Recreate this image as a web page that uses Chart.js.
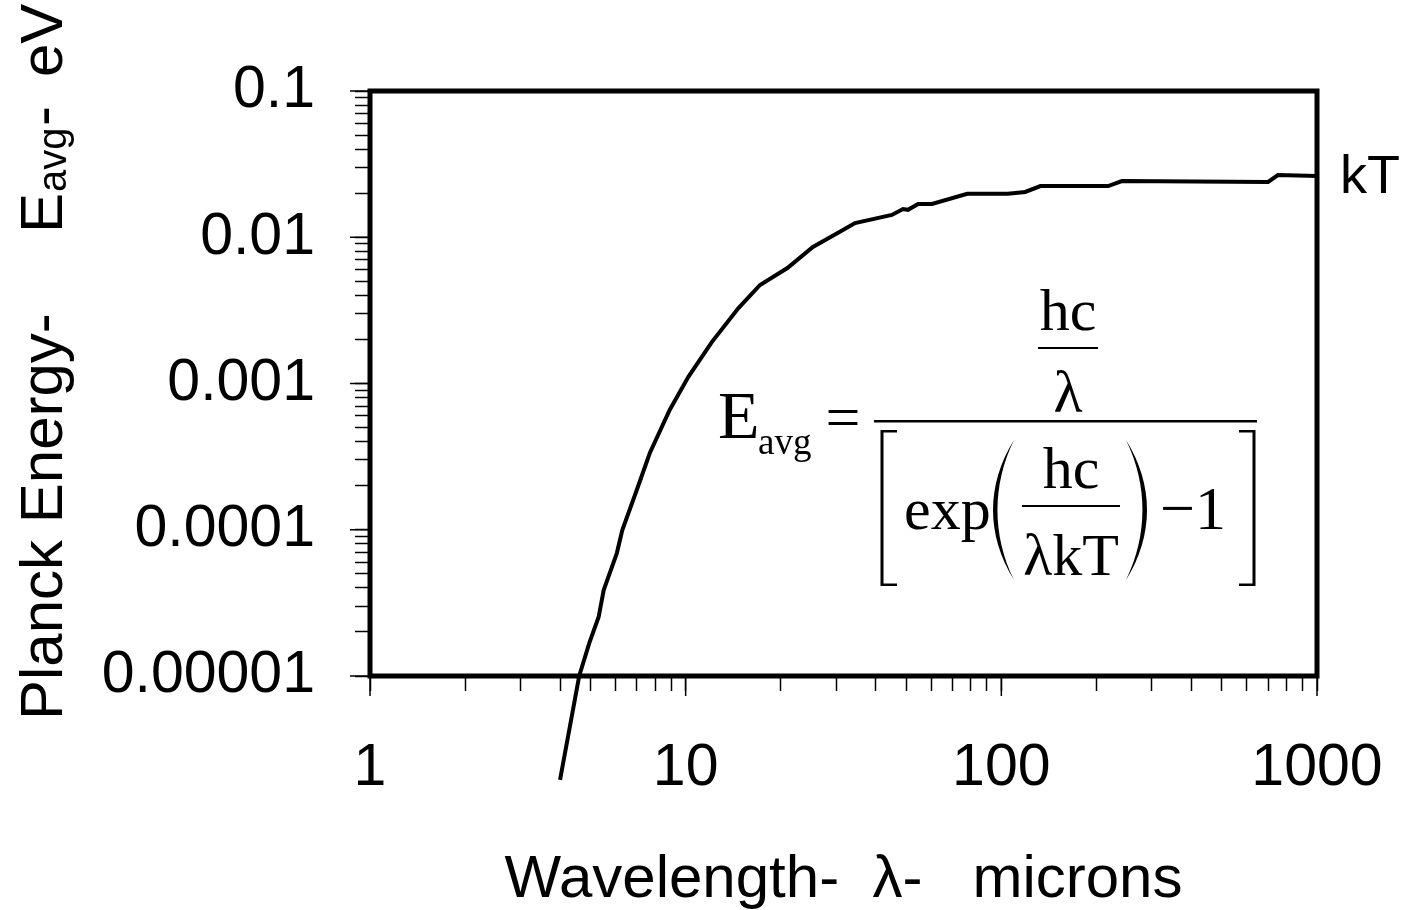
<!DOCTYPE html>
<html>
<head>
<meta charset="utf-8">
<script src="https://cdn.jsdelivr.net/npm/chart.js@4.4.1/dist/chart.umd.min.js"></script>
<style>
  html, body { margin: 0; padding: 0; background: #fff; }
  #wrap { width: 1406px; height: 910px; }
</style>
</head>
<body>
<div id="wrap"><canvas id="chart" width="1406" height="910"></canvas></div>
<script>
// values (wavelength in microns, energy in eV)
const wavelength = [4.0, 4.6, 4.95, 5.3, 5.5, 6.05, 6.3, 7.0, 7.7, 8.9, 10.2, 12.1, 14.7, 17.2, 21, 25.3,
    30.8, 34.4, 45, 48.8, 50.6, 54.5, 60.3, 78, 105, 119, 133, 218, 241, 700, 752, 1000];
const energy = [1.95e-6, 1.0e-5, 1.68e-5, 2.53e-5, 3.87e-5, 6.9e-5, 9.95e-5, 1.87e-4, 3.35e-4, 6.6e-4,
    1.11e-3, 1.92e-3, 3.28e-3, 4.72e-3, 6.16e-3, 8.58e-3, 0.0109, 0.0125, 0.0142, 0.0156, 0.0154,
    0.0169, 0.0169, 0.0198, 0.0198, 0.0204, 0.0224, 0.0224, 0.0242, 0.0239, 0.0266, 0.0262];

const xDecades = [1, 10, 100, 1000];
const xTickLabels = ['1', '10', '100', '1000'];
const yDecades = [0.00001, 0.0001, 0.001, 0.01, 0.1];
const yTickLabels = ['0.00001', '0.0001', '0.001', '0.01', '0.1'];

const SANS = '"Liberation Sans", Arial, sans-serif';
const SERIF = '"Liberation Serif", "Times New Roman", serif';

// 1..9 ticks inside every decade
function decadeTicks(decades) {
    const ticks = [];
    for (let i = 0; i < decades.length - 1; i++) {
        for (let k = 1; k <= 9; k++) ticks.push({ value: decades[i] * k });
    }
    ticks.push({ value: decades[decades.length - 1] });
    return ticks;
}

function decadeLabel(value, decades, labels) {
    const i = decades.findIndex(d => Math.abs(value / d - 1) < 1e-6);
    return i >= 0 ? labels[i] : '';
}

const frame = {
    id: 'frame',
    beforeDatasetsDraw(chart) {
        const { ctx, chartArea: a } = chart;
        ctx.save();
        ctx.strokeStyle = '#000';
        ctx.lineWidth = 5;
        ctx.strokeRect(a.left, a.top, a.right - a.left, a.bottom - a.top);
        ctx.restore();
    }
};

// decade ticks are a bit longer than the minor ones
const majorTicks = {
    id: 'majorTicks',
    afterDraw(chart) {
        const { ctx, chartArea: a, scales: { x, y } } = chart;
        ctx.save();
        ctx.strokeStyle = '#000';
        ctx.lineWidth = 1.5;
        ctx.beginPath();
        xDecades.forEach(v => {
            const px = x.getPixelForValue(v);
            ctx.moveTo(px, a.bottom); ctx.lineTo(px, a.bottom + 20);
        });
        yDecades.forEach(v => {
            const py = y.getPixelForValue(v);
            ctx.moveTo(a.left - 20, py); ctx.lineTo(a.left, py);
        });
        ctx.stroke();
        ctx.restore();
    }
};

const labels = {
    id: 'labels',
    afterDraw(chart) {
        const { ctx, chartArea: a, scales: { y } } = chart;
        ctx.save();
        ctx.fillStyle = '#000';

        // kT next to the end of the curve
        ctx.font = '54px ' + SANS;
        ctx.textBaseline = 'middle';
        ctx.textAlign = 'left';
        ctx.fillText('kT', a.right + 23, y.getPixelForValue(energy[energy.length - 1]) + 2);

        // y axis title with subscript
        ctx.translate(62, 720);
        ctx.rotate(-Math.PI / 2);
        ctx.textBaseline = 'alphabetic';
        ctx.font = '60px ' + SANS;
        ctx.fillText('Planck Energy-', 0, 0);
        ctx.fillText('E', 487, 0);
        ctx.font = '40px ' + SANS;
        ctx.fillText('avg', 528, 4);
        ctx.font = '60px ' + SANS;
        ctx.fillText('-', 594, 0);
        ctx.fillText('eV', 643, 0);
        ctx.restore();
    }
};

function put(ctx, str, x, y, size, align) {
    ctx.font = size + 'px ' + SERIF;
    ctx.textAlign = align;
    ctx.fillText(str, x, y);
}

function paren(ctx, x, top, bottom, dir) {
    // dir -1 : "(" with its ends at x, +1 : ")"
    const b1 = 28 * dir, b2 = 22 * dir;
    ctx.beginPath();
    ctx.moveTo(x, top);
    ctx.bezierCurveTo(x + b1, top + 45, x + b1, bottom - 45, x, bottom);
    ctx.bezierCurveTo(x + b2, bottom - 45, x + b2, top + 45, x, top);
    ctx.fill();
}

function bracket(ctx, x, top, bottom, dir) {
    ctx.fillRect(x - 1.5, top, 3, bottom - top);
    const w = 15 * dir;
    ctx.fillRect(Math.min(x, x + w), top, Math.abs(w), 2.5);
    ctx.fillRect(Math.min(x, x + w), bottom - 2.5, Math.abs(w), 2.5);
}

const formula = {
    id: 'formula',
    afterDraw(chart) {
        const ctx = chart.ctx;
        ctx.save();
        ctx.fillStyle = '#000';
        ctx.textBaseline = 'alphabetic';

        put(ctx, 'E', 718, 438, 68, 'left');
        put(ctx, 'avg', 758, 454, 37, 'left');
        put(ctx, '=', 843, 438, 62, 'center');
        ctx.fillRect(874, 420, 383, 2.5);

        put(ctx, 'hc', 1068, 330, 60, 'center');
        ctx.fillRect(1038, 347, 60, 2);
        put(ctx, 'λ', 1068, 412, 60, 'center');

        bracket(ctx, 882, 430, 586, 1);
        bracket(ctx, 1254, 430, 586, -1);
        put(ctx, 'exp', 904, 529, 60, 'left');
        paren(ctx, 1014, 440, 580, -1);
        paren(ctx, 1126, 440, 580, 1);
        put(ctx, 'hc', 1071, 488, 60, 'center');
        ctx.fillRect(1022, 505, 98, 2);
        put(ctx, 'λkT', 1071, 575, 60, 'center');
        put(ctx, '−1', 1160, 529, 62, 'left');
        ctx.restore();
    }
};

const points = wavelength.map((w, i) => ({ x: w, y: energy[i] }));

new Chart(document.getElementById('chart'), {
    type: 'scatter',
    data: {
        datasets: [{
            data: points,
            showLine: true,
            borderColor: '#000',
            borderWidth: 4,
            pointRadius: 0,
            tension: 0,
            clip: false
        }]
    },
    options: {
        responsive: false,
        animation: false,
        devicePixelRatio: 1,
        layout: { padding: { top: 91, right: 89, left: 0, bottom: 0 } },
        plugins: { legend: { display: false }, tooltip: { enabled: false } },
        scales: {
            x: {
                type: 'logarithmic',
                min: 1,
                max: 1000,
                afterFit: s => { s.height = 234; s.paddingLeft = 0; s.paddingRight = 0; },
                afterBuildTicks: s => { s.ticks = decadeTicks(xDecades); },
                grid: { drawOnChartArea: false, tickLength: 15, tickColor: '#000', tickWidth: 1.5 },
                border: { display: false },
                ticks: {
                    autoSkip: false,
                    maxRotation: 0,
                    padding: 42,
                    color: '#000',
                    font: { family: SANS, size: 59 },
                    callback: v => decadeLabel(v, xDecades, xTickLabels)
                },
                title: {
                    display: true,
                    text: 'Wavelength-  λ-   microns',
                    color: '#000',
                    font: { family: SANS, size: 60, lineHeight: 1 },
                    padding: { top: 0, bottom: 0 }
                }
            },
            y: {
                type: 'logarithmic',
                min: 0.00001,
                max: 0.1,
                afterFit: s => { s.width = 370; s.paddingTop = 0; s.paddingBottom = 0; },
                afterBuildTicks: s => { s.ticks = decadeTicks(yDecades); },
                grid: { drawOnChartArea: false, tickLength: 15, tickColor: '#000', tickWidth: 1.5 },
                border: { display: false },
                ticks: {
                    autoSkip: false,
                    padding: 40,
                    color: '#000',
                    font: { family: SANS, size: 59 },
                    callback: v => decadeLabel(v, yDecades, yTickLabels)
                }
            }
        }
    },
    plugins: [frame, majorTicks, labels, formula]
});
</script>
</body>
</html>
